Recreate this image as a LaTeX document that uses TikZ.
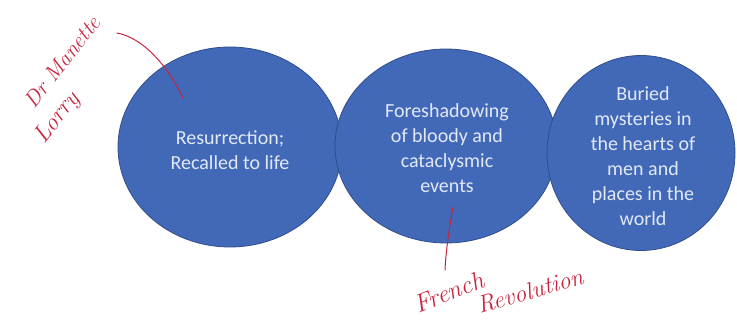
\documentclass[tikz,border=0pt]{standalone}
\usepackage{fontspec}
\newfontfamily\carlito{Carlito}
\usetikzlibrary{shapes.geometric}
\definecolor{bubblefill}{RGB}{66,104,184}
\definecolor{bubbleline}{RGB}{48,78,140}
\definecolor{bubbletext}{RGB}{226,233,246}
\definecolor{inkred}{RGB}{200,36,62}
\tikzset{
  bubble/.style={ellipse, fill=bubblefill, draw=bubbleline, line width=0.8pt, inner sep=0pt},
  bubbletxt/.style={text=bubbletext, align=center, font=\carlito\fontsize{20}{25}\selectfont, inner sep=0pt},
  ink/.style={draw=inkred, line width=1pt, line cap=round},
  inktxt/.style={text=inkred, font=\itshape\fontsize{22}{24}\selectfont, inner sep=0pt}
}
\begin{document}
\begin{tikzpicture}[x=1pt,y=-1pt]
\useasboundingbox (0,0) rectangle (737,322);
\node[bubble, minimum width=224pt, minimum height=200pt] (b1) at (230,147) {};
\node[bubble, minimum width=222pt, minimum height=194pt] (b2) at (446,146) {};
\node[bubble, minimum width=188pt, minimum height=195pt] (b3) at (641,153) {};
\node[bubbletxt] (t1) at (230,150) {Resurrection;\\Recalled to life};
\node[bubbletxt] (t2) at (447,148) {Foreshadowing\\of bloody and\\cataclysmic\\events};
\node[bubbletxt] (t3) at (643,156) {Buried\\mysteries in\\the hearts of\\men and\\places in the\\world};
% annotations
\coordinate (a1) at (117,33);
\coordinate (a2) at (183,98);
\draw[ink] (a1) .. controls (145,38) and (170,70) .. (a2);
\node[inktxt, rotate=52] (n1) at (62,62) {Dr Manette};
\node[inktxt, rotate=52, scale=1.1] (n2) at (58,118) {Lorry};
\coordinate (f1) at (453,207);
\coordinate (f2) at (445,270);
\draw[ink] (f1) .. controls (449,230) and (446,250) .. (f2);
\node[inktxt, rotate=22, scale=1.15] (n3) at (449,292) {French};
\node[inktxt, rotate=16, scale=1.1] (n4) at (530,291) {Revolution};
\end{tikzpicture}
\end{document}
